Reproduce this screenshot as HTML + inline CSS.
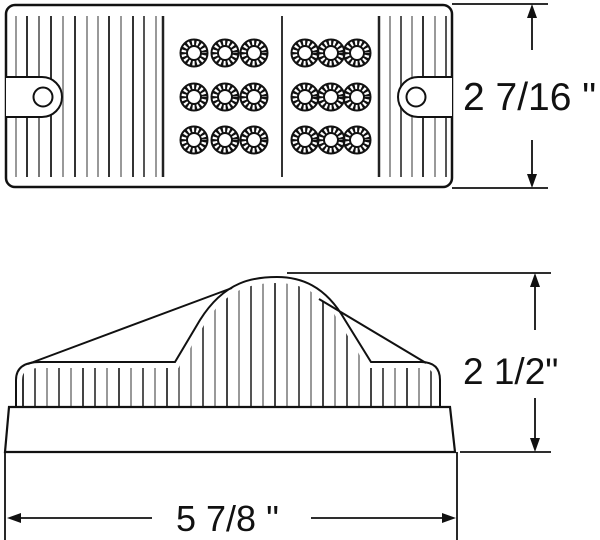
<!DOCTYPE html>
<html><head><style>html,body{margin:0;padding:0;background:#fff;}svg{display:block;}
text{font-family:"Liberation Sans",sans-serif;fill:#111;}</style></head><body>
<svg width="600" height="540" viewBox="0 0 600 540" xmlns="http://www.w3.org/2000/svg">
<defs>
<g id="led">
<circle r="10.3" fill="none" stroke="#111" stroke-width="6.5" stroke-dasharray="2.2 2.2"/>
<circle r="13.5" fill="none" stroke="#111" stroke-width="2"/>
<circle r="7" fill="none" stroke="#111" stroke-width="2"/>
</g>
<clipPath id="bodyclip">
<path d="M16,407 L16,380 Q16,362 40,362 L175,362 L200,320 C225,280 255,277 277,277 C300,277 325,285 345,320 L371,362 L421,362 Q440,362 440,380 L440,407 Z"/>
</clipPath>
</defs>

<!-- TOP VIEW -->
<rect x="6" y="5" width="446" height="182" rx="9" fill="#fff" stroke="#111" stroke-width="2.5"/>
<g stroke-width="2">
<line x1="16" y1="16" x2="16" y2="177" stroke="#999"/>
<line x1="27" y1="16" x2="27" y2="177" stroke="#333"/>
<line x1="39" y1="16" x2="39" y2="177" stroke="#777"/>
<line x1="51" y1="16" x2="51" y2="177" stroke="#333"/>
<line x1="63" y1="16" x2="63" y2="177" stroke="#999"/>
<line x1="75" y1="16" x2="75" y2="177" stroke="#333"/>
<line x1="87" y1="16" x2="87" y2="177" stroke="#999"/>
<line x1="98" y1="16" x2="98" y2="177" stroke="#999"/>
<line x1="109" y1="16" x2="109" y2="177" stroke="#333"/>
<line x1="121" y1="16" x2="121" y2="177" stroke="#999"/>
<line x1="133" y1="16" x2="133" y2="177" stroke="#333"/>
<line x1="144" y1="16" x2="144" y2="177" stroke="#555"/>
<line x1="156" y1="16" x2="156" y2="177" stroke="#999"/>
<line x1="163" y1="16" x2="163" y2="177" stroke="#222" stroke-width="2.5"/>
<line x1="282" y1="16" x2="282" y2="177" stroke="#333"/>
<line x1="379" y1="16" x2="379" y2="177" stroke="#222" stroke-width="2.5"/>
<line x1="390" y1="16" x2="390" y2="177" stroke="#999"/>
<line x1="401" y1="16" x2="401" y2="177" stroke="#555"/>
<line x1="412" y1="16" x2="412" y2="177" stroke="#999"/>
<line x1="423" y1="16" x2="423" y2="177" stroke="#333"/>
<line x1="435" y1="16" x2="435" y2="177" stroke="#999"/>
<line x1="446" y1="16" x2="446" y2="177" stroke="#555"/>
</g>
<!-- tabs -->
<path d="M6,77 L42,77 A20,20 0 0 1 42,117 L6,117" fill="#fff" stroke="#111" stroke-width="2"/>
<circle cx="43" cy="97" r="9.5" fill="#fff" stroke="#111" stroke-width="2"/>
<path d="M452,77 L418,77 A20,20 0 0 0 418,117 L452,117" fill="#fff" stroke="#111" stroke-width="2"/>
<circle cx="416" cy="97" r="9.5" fill="#fff" stroke="#111" stroke-width="2"/>
<!-- LEDs -->
<g>
<use href="#led" x="194" y="53"/><use href="#led" x="225" y="53"/><use href="#led" x="254" y="53"/>
<use href="#led" x="194" y="97"/><use href="#led" x="225" y="97"/><use href="#led" x="254" y="97"/>
<use href="#led" x="194" y="140"/><use href="#led" x="225" y="140"/><use href="#led" x="254" y="140"/>
<use href="#led" x="305" y="53"/><use href="#led" x="331" y="53"/><use href="#led" x="357" y="53"/>
<use href="#led" x="305" y="97"/><use href="#led" x="331" y="97"/><use href="#led" x="357" y="97"/>
<use href="#led" x="305" y="140"/><use href="#led" x="331" y="140"/><use href="#led" x="357" y="140"/>
</g>
<!-- top dimension -->
<g stroke="#111" stroke-width="1.8">
<line x1="452" y1="4" x2="548" y2="4"/>
<line x1="452" y1="188" x2="548" y2="188"/>
<line x1="532" y1="12" x2="532" y2="50"/>
<line x1="532" y1="140" x2="532" y2="180"/>
</g>
<path d="M532,4 L527,18 L537,18 Z M532,188 L527,174 L537,174 Z" fill="#111"/>
<text x="463" y="110" font-size="39">2 7/16 "</text>

<!-- SIDE VIEW -->
<g clip-path="url(#bodyclip)" stroke-width="2">
<line x1="23" y1="270" x2="23" y2="407" stroke="#333"/>
<line x1="35" y1="270" x2="35" y2="407" stroke="#555"/>
<line x1="47" y1="270" x2="47" y2="407" stroke="#999"/>
<line x1="59" y1="270" x2="59" y2="407" stroke="#555"/>
<line x1="71" y1="270" x2="71" y2="407" stroke="#999"/>
<line x1="83" y1="270" x2="83" y2="407" stroke="#444"/>
<line x1="95" y1="270" x2="95" y2="407" stroke="#555"/>
<line x1="107" y1="270" x2="107" y2="407" stroke="#999"/>
<line x1="119" y1="270" x2="119" y2="407" stroke="#444"/>
<line x1="131" y1="270" x2="131" y2="407" stroke="#999"/>
<line x1="143" y1="270" x2="143" y2="407" stroke="#555"/>
<line x1="155" y1="270" x2="155" y2="407" stroke="#999"/>
<line x1="167" y1="270" x2="167" y2="407" stroke="#444"/>
<line x1="179" y1="270" x2="179" y2="407" stroke="#777"/>
<line x1="191" y1="270" x2="191" y2="407" stroke="#999"/>
<line x1="203" y1="270" x2="203" y2="407" stroke="#555"/>
<line x1="215" y1="270" x2="215" y2="407" stroke="#999"/>
<line x1="227" y1="270" x2="227" y2="407" stroke="#444"/>
<line x1="239" y1="270" x2="239" y2="407" stroke="#999"/>
<line x1="251" y1="270" x2="251" y2="407" stroke="#555"/>
<line x1="263" y1="270" x2="263" y2="407" stroke="#999"/>
<line x1="275" y1="270" x2="275" y2="407" stroke="#444"/>
<line x1="287" y1="270" x2="287" y2="407" stroke="#999"/>
<line x1="299" y1="270" x2="299" y2="407" stroke="#555"/>
<line x1="311" y1="270" x2="311" y2="407" stroke="#999"/>
<line x1="323" y1="270" x2="323" y2="407" stroke="#444"/>
<line x1="335" y1="270" x2="335" y2="407" stroke="#999"/>
<line x1="347" y1="270" x2="347" y2="407" stroke="#555"/>
<line x1="359" y1="270" x2="359" y2="407" stroke="#999"/>
<line x1="371" y1="270" x2="371" y2="407" stroke="#444"/>
<line x1="383" y1="270" x2="383" y2="407" stroke="#555"/>
<line x1="395" y1="270" x2="395" y2="407" stroke="#999"/>
<line x1="407" y1="270" x2="407" y2="407" stroke="#444"/>
<line x1="419" y1="270" x2="419" y2="407" stroke="#999"/>
<line x1="431" y1="270" x2="431" y2="407" stroke="#555"/>
</g>
<path d="M16,407 L16,380 Q16,362 40,362 L175,362 L200,320 C225,280 255,277 277,277 C300,277 325,285 345,320 L371,362 L421,362 Q440,362 440,380 L440,407" fill="none" stroke="#fff" stroke-width="12"/>
<path d="M16,407 L16,380 Q16,362 40,362 L175,362 L200,320 C225,280 255,277 277,277 C300,277 325,285 345,320 L371,362 L421,362 Q440,362 440,380 L440,407" fill="none" stroke="#111" stroke-width="2"/>
<line x1="28" y1="364" x2="232" y2="288" stroke="#111" stroke-width="2"/>
<line x1="319" y1="299" x2="426" y2="363" stroke="#111" stroke-width="2"/>
<path d="M9,407 L450,407 L455,452 L5,452 Z" fill="#fff" stroke="#111" stroke-width="2.2"/>

<!-- side dimensions -->
<g stroke="#111" stroke-width="1.8">
<line x1="287" y1="273" x2="551" y2="273"/>
<line x1="460" y1="452" x2="551" y2="452"/>
<line x1="535" y1="280" x2="535" y2="330"/>
<line x1="535" y1="398" x2="535" y2="445"/>
<line x1="5" y1="452" x2="5" y2="540"/>
<line x1="457" y1="452" x2="457" y2="540"/>
<line x1="14" y1="518" x2="152" y2="518"/>
<line x1="311" y1="518" x2="450" y2="518"/>
</g>
<path d="M535,273 L530,287 L540,287 Z M535,452 L530,438 L540,438 Z M7,518 L21,513 L21,523 Z M456,518 L442,513 L442,523 Z" fill="#111"/>
<text x="463" y="384" font-size="37">2 1/2"</text>
<text x="176" y="531" font-size="36">5 7/8 "</text>
</svg>
</body></html>
